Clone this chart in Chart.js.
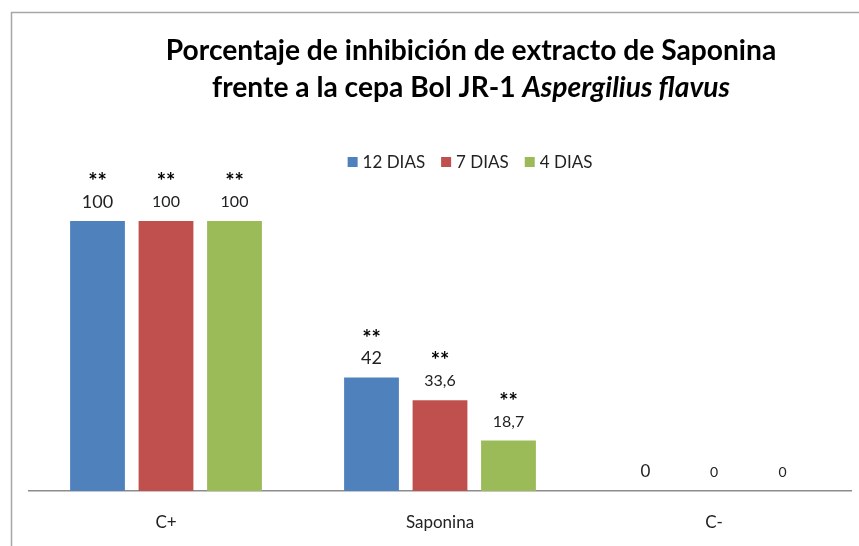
<!DOCTYPE html>
<html>
<head>
<meta charset="utf-8">
<script src="https://cdn.jsdelivr.net/npm/chart.js@4.4.0/dist/chart.umd.min.js"></script>
<style>
  html, body { margin: 0; padding: 0; background: #fff; }
  #wrap { width: 859px; height: 546px; position: relative; }
</style>
</head>
<body>
<div id="wrap"><canvas id="canva" width="859" height="546"></canvas></div>
<script>
// datos del grafico
var categorias = ['C+', 'Saponina', 'C-'];
var series = ['12 DIAS', '7 DIAS', '4 DIAS'];
var dias12 = [100, 42, 0];
var dias7 = [100, 33.6, 0];
var dias4 = [100, 18.7, 0];
var signif12 = ['**', '**', ''];
var signif7 = ['**', '**', ''];
var signif4 = ['**', '**', ''];
var colores = ['#4F81BD', '#C0504D', '#9BBB59'];

var fuente = 'Lato, "Open Sans", sans-serif';

// titulo en dos lineas, con la especie en cursiva
var tituloPlugin = {
    id: 'titulo',
    afterDraw: function(chart) {
        var c = chart.ctx;
        c.save();
        c.fillStyle = '#000';
        c.textBaseline = 'middle';
        c.textAlign = 'left';
        var cx = 471;
        var l1 = 'Porcentaje de inhibición de extracto de Saponina';
        c.font = 'bold 24px ' + fuente;
        // ajustar tamaño al ancho del original (~611px)
        var t = Math.round(24 * 611 / c.measureText(l1).width * 10) / 10;
        c.font = 'bold ' + t + 'px ' + fuente;
        var w1 = c.measureText(l1).width;
        c.fillText(l1, cx - w1 / 2, 51);
        var a = 'frente a la cepa Bol JR-1 ';
        var b = 'Aspergilius flavus';
        var wa = c.measureText(a).width;
        c.font = 'italic bold ' + t + 'px ' + fuente;
        var wb = c.measureText(b).width;
        var x0 = cx - (wa + wb) / 2;
        c.font = 'bold ' + t + 'px ' + fuente;
        c.fillText(a, x0, 88);
        c.font = 'italic bold ' + t + 'px ' + fuente;
        c.fillText(b, x0 + wa, 88);
        c.restore();
    }
};

// marco gris arriba y a la izquierda
var marcoPlugin = {
    id: 'marco',
    beforeDraw: function(chart) {
        var c = chart.ctx;
        c.save();
        c.strokeStyle = '#a6a6a6';
        c.lineWidth = 1.5;
        c.beginPath();
        c.moveTo(11.5, 546);
        c.lineTo(11.5, 12.5);
        c.lineTo(859, 12.5);
        c.stroke();
        c.restore();
    }
};

// leyenda dibujada a mano
var leyendaPlugin = {
    id: 'leyenda',
    afterDraw: function(chart) {
        var c = chart.ctx;
        c.save();
        c.font = '17px ' + fuente;
        c.textBaseline = 'middle';
        c.textAlign = 'left';
        var items = chart.data.datasets;
        var total = 0;
        items.forEach(function(d, i) {
            total += 15 + c.measureText(d.label).width + (i < items.length - 1 ? 16 : 0);
        });
        var x = 470 - total / 2;
        var y = 162;
        items.forEach(function(d) {
            c.fillStyle = d.backgroundColor;
            c.fillRect(x, y - 5, 10, 10);
            c.fillStyle = '#222';
            c.fillText(d.label, x + 15, y + 1);
            x += 15 + c.measureText(d.label).width + 16;
        });
        c.restore();
    }
};

// valores y asteriscos encima de las barras
var etiquetasPlugin = {
    id: 'etiquetas',
    afterDatasetsDraw: function(chart) {
        var c = chart.ctx;
        c.save();
        c.textAlign = 'center';
        c.textBaseline = 'middle';
        chart.data.datasets.forEach(function(d, i) {
            var meta = chart.getDatasetMeta(i);
            meta.data.forEach(function(bar, j) {
                var v = d.data[j];
                var txt = String(v).replace('.', ',');
                var size = (i == 0) ? 18 : 16;
                if (v == 0) size = (i == 0) ? 17 : 14;
                c.font = size + 'px ' + fuente;
                c.fillStyle = '#222';
                c.fillText(txt, bar.x, bar.y - 19);
                if (d.signif[j]) {
                    c.font = 'bold 22px ' + fuente;
                    c.fillStyle = '#000';
                    c.fillText(d.signif[j], bar.x, bar.y - 39);
                }
            });
        });
        c.restore();
    }
};

var canva = new Chart(document.getElementById('canva'), {
    type: 'bar',
    data: {
        labels: categorias,
        datasets: [
            { label: series[0], data: dias12, signif: signif12, backgroundColor: colores[0] },
            { label: series[1], data: dias7, signif: signif7, backgroundColor: colores[1] },
            { label: series[2], data: dias4, signif: signif4, backgroundColor: colores[2] }
        ]
    },
    options: {
        responsive: false,
        animation: false,
        layout: { padding: { top: 221, left: 29, right: 8, bottom: 0 } },
        datasets: { bar: { categoryPercentage: 0.75, barPercentage: 0.8 } },
        plugins: {
            legend: { display: false },
            title: { display: false },
            tooltip: { enabled: false }
        },
        scales: {
            x: {
                grid: { display: false, drawTicks: false },
                border: { display: true, color: '#8c8c8c', width: 1.5 },
                ticks: { color: '#222', font: { family: fuente, size: 17 }, padding: 21 },
                afterFit: function(s) { s.height = 55; }
            },
            y: {
                display: false,
                min: 0,
                max: 100
            }
        }
    },
    plugins: [marcoPlugin, tituloPlugin, leyendaPlugin, etiquetasPlugin]
});
</script>
</body>
</html>
